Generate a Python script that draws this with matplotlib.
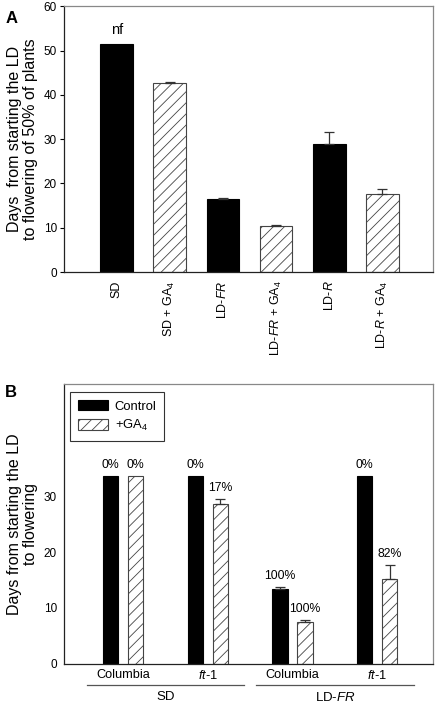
import numpy as np
import matplotlib.pyplot as plt
import matplotlib.transforms as mtransforms

plt.rcParams['font.family'] = ['Liberation Sans', 'DejaVu Sans']
plt.rcParams['mathtext.fontset'] = 'custom'
plt.rcParams['mathtext.rm'] = 'Liberation Sans'
plt.rcParams['mathtext.it'] = 'Liberation Sans:italic'
plt.rcParams['hatch.linewidth'] = 0.6
plt.rcParams['hatch.color'] = '#444444'

# panel A data
a_labels = ['SD', 'SD + GA$_4$', 'LD-$\\it{FR}$', 'LD-$\\it{FR}$ + GA$_4$',
            'LD-$\\it{R}$', 'LD-$\\it{R}$ + GA$_4$']
a_values = [51.5, 42.7, 16.4, 10.3, 28.9, 17.6]
a_err = [0.0, 0.3, 0.4, 0.3, 2.7, 1.1]
a_hatched = [False, True, False, True, False, True]

# panel B data
b_groups = ['Columbia', '$\\it{ft}$-$\\it{1}$', 'Columbia', '$\\it{ft}$-$\\it{1}$']
b_control = [33.6, 33.6, 13.4, 33.6]
b_control_err = [0.0, 0.0, 0.3, 0.0]
b_ga = [33.6, 28.6, 7.5, 15.1]
b_ga_err = [0.0, 1.0, 0.3, 2.6]
b_control_pct = ['0%', '0%', '100%', '0%']
b_ga_pct = ['0%', '17%', '100%', '82%']
b_conditions = ['SD', 'LD-$\\it{FR}$']

HATCH = '///'

fig = plt.figure(figsize=(4.37, 7.03), dpi=100)

# ---- panel A
ax1 = fig.add_axes([0.146, 0.613, 0.845, 0.378])
x = np.arange(len(a_values))
for i in range(len(a_values)):
    if a_hatched[i]:
        ax1.bar(x[i], a_values[i], width=0.62, color='white', edgecolor='#444444',
                hatch=HATCH, linewidth=0.8, zorder=2)
    else:
        ax1.bar(x[i], a_values[i], width=0.62, color='black', edgecolor='black',
                linewidth=0.8, zorder=2)
    if a_err[i] > 0:
        ax1.errorbar(x[i], a_values[i], yerr=[[0], [a_err[i]]], fmt='none',
                     ecolor='#333333', elinewidth=0.9, capsize=3.5, capthick=0.9, zorder=3)
ax1.text(x[0], a_values[0] + 1.5, 'nf', ha='center', va='bottom', fontsize=10.5)
ax1.set_xlim(-1.0, 5.96)
ax1.set_ylim(0, 60)
ax1.set_yticks(range(0, 61, 10))
ax1.set_xticks(x)
ax1.set_xticklabels(a_labels, rotation=90, fontsize=9, va='top')
ax1.tick_params(axis='x', length=0, pad=6)
ax1.tick_params(axis='y', length=3, width=0.8, labelsize=8.5, pad=2)
ax1.set_ylabel('Days  from starting the LD\nto flowering of 50% of plants', fontsize=11.5,
               labelpad=4, linespacing=1.1)
for s in ['top', 'right']:
    ax1.spines[s].set_color('#888888')
for s in ['left', 'bottom']:
    ax1.spines[s].set_color('#222222')
for s in ax1.spines.values():
    s.set_linewidth(0.9)
fig.text(0.012, 0.985, 'A', fontsize=12, fontweight='bold', va='top')

# ---- panel B
ax2 = fig.add_axes([0.146, 0.056, 0.845, 0.398])
g = np.arange(len(b_groups))
off = 0.148
w = 0.18
ax2.bar(g - off, b_control, width=w, color='black', edgecolor='black', linewidth=0.8,
        label='Control', zorder=2)
ax2.bar(g + off, b_ga, width=w, color='white', edgecolor='#444444', hatch=HATCH,
        linewidth=0.8, label='+GA$_4$', zorder=2)
for i in range(len(g)):
    if b_control_err[i] > 0:
        ax2.errorbar(g[i] - off, b_control[i], yerr=[[0], [b_control_err[i]]], fmt='none',
                     ecolor='#333333', elinewidth=0.9, capsize=3.5, capthick=0.9, zorder=3)
    if b_ga_err[i] > 0:
        ax2.errorbar(g[i] + off, b_ga[i], yerr=[[0], [b_ga_err[i]]], fmt='none',
                     ecolor='#333333', elinewidth=0.9, capsize=3.5, capthick=0.9, zorder=3)
    ax2.text(g[i] - off, b_control[i] + b_control_err[i] + 0.9, b_control_pct[i],
             ha='center', va='bottom', fontsize=8.8)
    ax2.text(g[i] + off, b_ga[i] + b_ga_err[i] + 0.9, b_ga_pct[i],
             ha='center', va='bottom', fontsize=8.8)
ax2.set_xlim(-0.70, 3.66)
ax2.set_ylim(0, 50.2)
ax2.set_yticks(range(0, 31, 10))
ax2.set_xticks(g)
ax2.set_xticklabels(b_groups, fontsize=9.2)
ax2.tick_params(axis='x', length=0, pad=4)
ax2.tick_params(axis='y', length=0, labelsize=8.5, pad=5)
ax2.set_ylabel('Days from starting the LD\nto flowering', fontsize=11.5, labelpad=4,
               linespacing=1.1)
for s in ['top', 'right']:
    ax2.spines[s].set_color('#888888')
for s in ['left', 'bottom']:
    ax2.spines[s].set_color('#222222')
for s in ax2.spines.values():
    s.set_linewidth(0.9)

# condition brackets under the group labels
trans = mtransforms.blended_transform_factory(ax2.transData, ax2.transAxes)
for k, cond in enumerate(b_conditions):
    lo = g[2 * k] - 0.43
    hi = g[2 * k + 1] + 0.43
    ax2.plot([lo, hi], [-0.077, -0.077], color='#555555', lw=0.9, transform=trans,
             clip_on=False)
    ax2.text((g[2 * k] + g[2 * k + 1]) / 2, -0.097, cond, transform=trans,
             ha='center', va='top', fontsize=9.5)

leg = ax2.legend(loc='upper left', bbox_to_anchor=(0.0, 0.995), fontsize=9.4,
                 frameon=True, fancybox=False, edgecolor='black', handlelength=2.3,
                 handleheight=0.9, borderpad=0.6, labelspacing=0.45, handletextpad=0.5)
leg.get_frame().set_linewidth(0.8)
fig.text(0.012, 0.452, 'B', fontsize=12, fontweight='bold', va='top')

fig.savefig('out.png', dpi=100)
